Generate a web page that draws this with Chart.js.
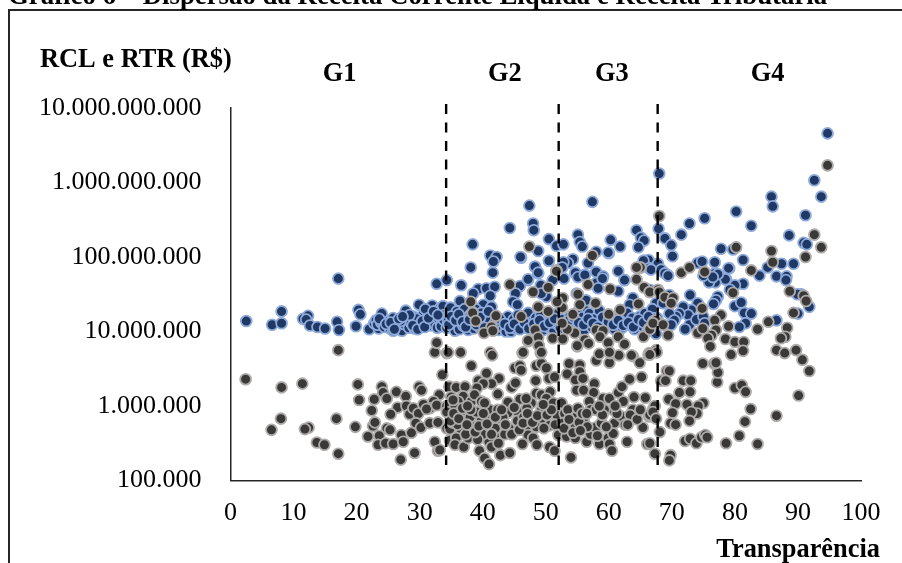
<!DOCTYPE html>
<html>
<head>
<meta charset="utf-8">
<style>
html, body { margin: 0; padding: 0; background: #fff; }
#box { width: 902px; height: 563px; }
</style>
<script src="https://cdn.jsdelivr.net/npm/chart.js@4"></script>
</head>
<body>
<div id="box"><canvas id="grafico" width="902" height="563"></canvas></div>
<script>
// pairs are [transparencia, log10 of revenue]
const rclG1 = [[2.5,7.14],[6.6,7.09],[8.1,7.27],[8.1,7.11],[11.5,7.17],[12.3,7.21],[12,7.16],[12.6,7.08],[13.8,7.06],[15,7.04],[17.1,7.71],[16.9,7.13],[17.2,7.02],[19.9,7.07],[20.3,7.29],[20.6,7.23],[22,7.03],
[22.8,7.11],[23.1,7.15],[23.5,7.04],[23.3,7.09],[23.9,7.12],[24,7.24],[24.4,7.06],[24.9,7.13],[25.3,7.04],[25.8,7.01],[25.8,7.18],[26.2,7.08],[26.5,7.13],[26.9,7.05],[27.2,7.01],[27.5,7.1],[27.8,7.28],[28,7.16],[28.3,7.05],[28.6,7.12],[29,7.2],[29.2,7.04],[29.5,7.1],[29.9,7.36],[30,7.17],[30.3,7.08],[30.6,7.24],[31,7.14],[31.3,7.27],[31.6,7.08],[31.9,7.2],[32,7.35],[32.3,7.1],[32.5,7.25],[32.8,7.05],[33,7.17],[33.2,7.31],[33.5,7.12],[33.7,7.34],[33.9,7.22],[29.5,7.17],[28.4,7.22],[27,7.14],[30.9,7.3],[32.7,7.64],
[23.6,7.17],[24.7,7.1],[25.4,7.12],[26,7.03],[26.7,7.17],[27.3,7.2],[28.9,7.08],[29.7,7.03],[30.4,7.14],[30.8,7.06],[31.4,7.18],[32.2,7.27],[33.4,7.07],[33.8,7.16],[32.9,7.22]];
const rclG2 = [[34.3,7.69],[36.6,7.62],[39.3,7.57],[38.5,7.51],[40.6,7.58],[41.9,7.6],[41.2,7.48],[40.1,7.36],[36.4,7.41],[45.9,7.61],[45.2,7.51],[44.8,7.4],[45.5,7.36],[47.2,7.69],[49.2,7.62],[50.1,7.47],[49.3,7.51],[48.3,7.87],[48.8,7.78],[46.1,7.99],[50.5,7.95],[51.1,7.69],[44,7.2],
[38.4,8.17],[47.4,8.69],[48,8.45],[48.1,8.36],[44.3,8.39],[50.5,8.24],[51.7,8.15],[48.8,8.08],[41.2,8.02],[42.2,8],[41.7,7.94],[38.1,7.86],[41.6,7.79],[46,8],[50.5,7.95],[48.3,7.87],[48.8,7.79],[47.2,7.7],
[34.3,7.05],[34.5,7.14],[34.7,7.24],[34.9,7.32],[35.2,7.09],[35.4,7.19],[35.6,7.01],[35.9,7.27],[36.1,7.12],[36.3,7.03],[36.6,7.2],[36.9,7.08],[37.1,7.3],[37.4,7.15],[37.7,7.02],[38,7.22],[38.3,7.1],[38.6,7.04],[38.9,7.3],[39.2,7.17],[39.5,7.06],[39.8,7.25],[40.1,7.11],[40.5,7.21],[40.8,7.03],[41.1,7.14],[41.4,7.33],[41.8,7.09],[42.2,7.19],[42.5,7.02],[42.9,7.12],[43.3,7.05],[43.7,7],[44.1,7.1],[44.5,7],[44.9,7.16],[45.2,7.04],[45.6,7.22],[46,7.09],[46.4,7.17],[46.8,7.05],[47.2,7.25],[47.6,7.12],[48,7.03],[48.4,7.18],[48.8,7.08],[49.2,7.22],[49.6,7.02],[50,7.13],[50.4,7.06],[50.8,7.19],[51.2,7.03],[51.6,7.11],[51.9,7.24],
[34.6,7.09],[35,7.2],[35.7,7.15],[36.2,7.23],[36.8,7.13],[37.3,7.06],[37.9,7.16],[38.4,7.26],[39,7.09],[39.6,7.19],[40.3,7.05],[40.9,7.27],[41.6,7.04],[42,7.12],[42.7,7.17],[43.5,7.1],[44.3,7.05],[45,7.1],[45.9,7.03],[46.6,7.12],[47.3,7.04],[48.1,7.1],[49,7.15],[49.8,7.07],[50.6,7.12],[51.4,7.17]];
const rclG3 = [[57.4,8.74],[52.8,8.17],[55.1,8.3],[55.4,8.2],[55.8,8.14],[60.3,8.23],[61.8,8.14],[64.4,8.36],[65.1,8.26],[65.6,8.22],[64.7,8.13],[58,8.07],[60,8.05],[56.7,7.92],[54.3,7.97],[53.5,7.92],[52.8,7.93],[52.6,7.86],[54.7,7.78],[56.2,7.76],[58,7.8],[59.1,7.74],[61.5,7.81],[62.5,7.69],[65.6,7.95],[66.3,7.96],[66.5,7.85],[67.8,7.91],[59.9,8.06],[65.5,7.95],[66.4,7.85],
[52.9,7.71],[54.7,7.79],[55.1,7.73],[56.2,7.76],[58,7.65],[59,7.71],[61.5,7.54],[62.5,7.69],[58.3,7.58],[54.9,7.51],[56.2,7.29],[56.4,7.42],[63.8,7.45],[63.3,7.36],[66,7.17],[67.5,7.38],[66.7,7.83],[66.5,7.56],
[52.3,7.05],[52.6,7.16],[53,7.02],[53.4,7.1],[53.8,7.2],[54.2,7.05],[54.6,7.13],[55,7.26],[55.4,7.08],[55.8,7.19],[56.1,7.02],[56.5,7.12],[56.9,7.24],[57.3,7.06],[57.7,7.17],[58.1,7.1],[58.5,7.28],[58.9,7.03],[59.3,7.14],[59.7,7.22],[60.1,7.07],[60.5,7.16],[60.9,7.03],[61.3,7.11],[61.7,7.2],[62.1,7.05],[62.5,7.14],[62.9,7.25],[63.3,7.09],[63.7,7.18],[64.1,7.03],[64.5,7.12],[64.9,7.2],[65.3,7.07],[65.7,7.24],[66.1,7],[66.5,7.13],[66.9,7.3],[67.3,7.08],[67.7,7.18],[67,7.18],[67.5,6.97],
[52.8,7.09],[53.6,7.14],[54.4,7.19],[55.2,7.12],[56,7.09],[56.7,7.17],[57.5,7.11],[58.3,7.06],[59,7.19],[59.9,7.13],[60.7,7.09],[61.5,7.15],[62.3,7.08],[63.1,7.12],[63.9,7.06],[64.7,7.16],[65.5,7.12],[66.3,7.2],[67.1,7.14]];
const rclG4 = [[94.7,9.66],[68,9.12],[92.6,9.03],[93.7,8.81],[85.8,8.81],[86,8.68],[80.2,8.61],[82.6,8.42],[91.2,8.56],[88.6,8.29],[90.9,8.19],[91.4,8.17],[75.2,8.52],[72.8,8.45],[71.5,8.3],[67.9,8.38],[68.9,8.25],[69.9,8.16],[70.1,8.01],[68.6,7.8],[69.4,7.75],
[74.1,7.92],[74.8,7.94],[76.8,7.93],[79.1,7.85],[75.2,7.78],[76.5,7.76],[77,7.76],[76.3,7.71],[78.6,7.7],[77.8,8.11],[79.7,8.1],[81.3,7.96],[83.9,7.75],[85.2,7.86],[87.4,7.91],[89.3,7.91],[86.6,7.74],[88.2,7.74],[88.1,7.69],
[72.9,7.49],[77.3,7.47],[77,7.42],[76.6,7.37],[80,7.34],[81,7.39],[81.5,7.25],[82.6,7.24],[81.7,7.11],[80.7,7.06],[86.6,7.15],[90,7.24],[91.8,7.33],[90.5,7.5],[89.9,7.5],[81.3,7.64],[80,7.62],[79.2,7.56],[78.5,7.7],[79,7.85],[76.9,7.66],[75.9,7.66],[75,7.75],[76.8,7.78],[77.3,7.77],[76.5,7.73],[74.1,7.38],[73.1,7.29],[71.8,7.33],[72.6,7.22],[71.2,7.24],[70.7,7.2],[69.6,7.24],[70.4,7.15],[69.9,7.09],[68.6,7.38],[69.6,7.49],[72.8,7.09],[72.1,7.03],[73.9,7.16],[75,7.2],[75.2,7.11],[68.3,7.83],[68.9,7.78],[69.4,7.75]];

const rtrG1 = [[2.4,6.36],[8.1,6.25],[11.4,6.3],[8,5.83],[6.5,5.68],[12.4,5.71],[11.8,5.69],[13.7,5.51],[14.9,5.48],[16.8,5.83],[17.1,5.36],[17.1,6.75],[20.2,6.29],[20.4,6.08],[19.8,5.72],[21.8,5.59],[22.4,5.94],[22.8,6.09],[24,6.26],[24.2,6.18],[24.8,6.1],[26.3,6.19],[27.8,6.13],[26.5,5.98],[25.4,5.89],[27.9,6],[28.4,5.89],[29,5.97],[29.8,5.9],[30.6,6.02],[29.9,6.26],[30.3,6.21],[33.1,6.15],[32.2,6.06],[31.6,5.97],[31.1,5.96],[32.7,6.01],[33.6,6.42],[32.4,6.72],[32.7,6.85],[22.6,5.73],[22.9,5.78],[24.8,5.7],[25.3,5.68],[23.6,5.6],[23.4,5.48],[24.6,5.5],[25.8,5.49],[27.1,5.61],[27.4,5.52],[28.7,5.64],[29.4,5.77],[30.2,5.71],[31.6,5.77],[32.9,5.78],[29.2,5.37],[27,5.28],[32.4,5.52],[32.9,5.4],[33.2,5.41]];
const rtrG2 = [[34.3,6.71],[34.3,6],[34.3,5.7],[36.5,6.72],[34.5,6.72],[41.2,6.72],[41.5,6.68],[38.2,6.54],[46.3,6.71],[45.1,6.51],[45.9,6.54],[46.1,6.48],[48.5,6.54],[49.3,6.57],[50.1,6.51],[49.2,6.71],[48.9,6.81],[47.2,6.87],[40.6,6.44],[39.3,6.34],[42.6,6.37],[41.4,6.3],[40.1,6.3],[39.1,6.24],[42.4,6.16],[48.4,6.34],[50.5,6.37],[51.4,6.39],[44.6,6.25],[45.2,6.31],[34.7,6.26],[35.8,6.25],[37.2,6.26],[36.9,6.13],[36.1,6.06],[34.8,6.01],[35.6,5.99],[34.3,5.92],[36.4,5.92],[38.2,6.06],[38.7,6.15],[39.8,6.06],[41.1,5.95],[40.3,6.04],[42.4,5.95],[44,6.05],[44,5.91],[45.9,6.09],[45.6,5.92],[39.8,5.81],[41.1,5.81],[34.8,5.69],[36.6,5.68],[38.5,5.73],[40.9,5.69],[42.7,5.83],[44.2,5.7],[45.5,5.8],[46.9,5.7],[47.2,5.61],[47.5,5.82],[48.5,6.17],[49.3,6.15],[50.7,6.19],[50.1,6.1],[47.7,6.04],[49.3,5.94],[49.3,5.81],[50.6,5.74],[51.2,6.04],[51.7,5.88],[34.8,5.54],[35.8,5.57],[35.6,5.48],[37,5.45],[37.7,5.57],[39.5,5.4],[41,5.52],[40.3,5.3],[41,5.22],[41.4,5.45],[42.7,5.59],[42.8,5.34],[44.3,5.37],[46.3,5.49],[48,5.57],[48.6,5.48],[50.6,5.45],[51.4,5.4],[35.2,5.78],[37.4,5.9],[38,5.85],[39,5.92],[40,5.62],[42,5.7],[43.2,5.85],[46.5,5.85],[47,5.97],[48.5,5.72],[35,6.12],[36,5.75],[37.3,5.62],[39.2,5.55],[43.5,5.62],
[34.9,5.8],[35.4,5.9],[36.2,5.83],[36.8,5.97],[37.5,5.75],[38.1,5.95],[38.8,5.65],[39.4,5.73],[40.1,5.9],[40.7,5.76],[41.4,5.62],[42,5.85],[42.5,5.5],[43,5.95],[43.6,5.75],[44.6,5.62],[45,5.98],[45.8,5.68],[46.4,5.77],[47.1,5.9],[47.9,5.78],[48.7,5.87],[49.7,5.7],[50.2,5.88],[50.9,5.95],[51.5,5.75],[35.3,6.08],[37.6,6],[46.9,6.1],[49.6,6.02],
[47.4,8.14],[51.7,7.82],[48,7.53],[50.4,7.59],[44.3,7.63],[38.1,7.4],[38.4,7.25],[38.9,7.14],[42.1,7.21],[41.4,7.06],[40.2,6.98],[41.6,7.01],[46.1,7.2],[48.8,7.33],[50.4,7.27],[51.7,7.81],[51.1,6.91],[48.3,7.02],[48.8,6.92],[47.2,6.88],[48.9,6.81],[49.3,6.72],[46.4,6.72]];
const rtrG3 = [[52.5,6.04],[53,5.9],[54.9,5.86],[53.5,5.95],[55.1,5.97],[54,5.31],[56.5,5.52],[58.5,5.49],[59.9,5.57],[60.1,5.49],[60.5,5.4],[62.9,5.52],[66.1,5.49],[67.3,5.36],[52,5.61],[53.3,5.59],[54.7,5.57],[52.7,5.77],[54.7,5.73],[56,5.81],[57.1,5.62],[57.9,5.71],[58.8,5.77],[60.9,5.77],[60.7,5.63],[62,5.86],[65.4,5.71],[66.4,5.86],[67,5.95],[53.7,6.57],[53.4,6.43],[55.4,6.55],[55.4,6.46],[54.7,6.35],[54.9,6.21],[56,6.21],[55.9,6.37],[57.7,6.3],[57.6,6.18],[56.9,6.06],[57.1,5.95],[58,5.95],[59.1,6.1],[60.1,6.1],[61.5,6.18],[62.1,6.26],[63.3,6.36],[65.2,6.39],[64,6.12],[65.8,6.11],[63.8,5.95],[62.3,6.06],[60.7,5.95],[59.3,5.95],[63.8,6.67],[64.9,6.58],[66.3,6.69],[67.5,6.75],[58,6.61],[58.5,6.7],[60.1,6.58],[60.2,6.71],[61.6,6.68],[55,6.8],
[52.9,5.7],[53.7,5.82],[54.3,5.64],[55.3,5.78],[55.8,5.9],[56.6,5.72],[58.2,5.6],[59,5.88],[59.6,5.72],[61.3,5.9],[62.6,5.75],[63.4,5.88],[64.5,5.82],
[57.4,8.02],[65,7.86],[64.4,7.7],[65.6,7.59],[66.5,7.53],[67.8,7.56],[56.7,7.63],[60.2,7.57],[55.1,7.5],[52.7,7.45],[52.6,7.32],[55.4,7.36],[54.3,7.23],[57.9,7.38],[60,7.23],[61.8,7.29],[64.7,7.37],[66.4,7.04],[65.5,6.93],[67.6,7.14],[58,7.02],[59.1,7.01],[58.6,6.93],[61.5,6.93],[62.5,6.83],[59.9,6.85],[56.2,6.89],[56.8,6.84],[55,6.81],[54.6,6.98],[53.4,7.03],[52.6,7.11],[52.7,6.9],[63.6,6.68],[66.4,6.71],[60.1,6.72],[65,7.86],[64.4,7.86],[51.8,7.4],[67.5,7.15],[66.5,7.03],[67,7.11],[66.5,7.53],[67.6,6.72],[66.5,6.69],[67.3,6],[66.5,5.88],[67,5.92],[67.5,5.83],[66.5,5.5],[65,5.95],[56.5,5.9],[58.5,6],[61,6],[63,5.75],[55.5,5.67]];
const rtrG4 = [[94.7,9.23],[68,8.55],[71.5,7.79],[72.8,7.86],[75.2,7.8],[80.2,8.13],[82.6,7.82],[85.8,8.08],[86,7.93],[91.2,8],[92.6,8.3],[93.7,8.13],[88.7,7.54],[90.9,7.48],[91.3,7.41],[89.3,7.25],[79.7,7.52],[74.8,7.31],[68,7.53],[68.9,7.46],[70.2,7.45],[69.9,7.38],[77.8,7.22],[76.8,7.15],[79,7.07],[77,7.02],[76.3,6.95],[75.7,6.91],[74.1,6.98],[74.9,7.04],[78.5,6.9],[80,6.86],[81.4,6.86],[81.3,6.74],[76.1,6.8],[79.4,6.69],[83.6,7.03],[85.3,7.13],[88.3,7.05],[88,6.93],[87.3,6.91],[86.6,6.75],[89.7,6.75],[87.9,6.71],[68.6,7.09],[69.4,6.95],
[90.7,6.62],[91.8,6.47],[90.1,6.14],[86.6,5.87],[82.5,5.96],[81.6,5.79],[80.7,5.6],[83.6,5.49],[78.6,5.5],[80,6.24],[81.1,6.28],[81.7,6.19],[77.2,6.32],[77.3,6.45],[76.7,6.57],[77,6.58],[74.9,6.57],[69.2,6.47],[69.6,6.47],[68.3,6.34],[69,6.34],[71.8,6.34],[73,6.34],[71.2,6.18],[72.9,6.19],[69.5,6.09],[70.6,6.03],[72.4,6.02],[75,6.04],[74.2,6],[74,5.9],[73.1,5.92],[72.8,5.8],[70.1,5.91],[69.8,5.77],[70.6,5.75],[68.1,5.65],[72.1,5.53],[72.9,5.56],[73.9,5.5],[74.7,5.58],[75.3,5.61],[75.6,5.58],[69.8,5.34],[69.6,5.27]];

const xTicks = [0, 10, 20, 30, 40, 50, 60, 70, 80, 90, 100];
const yTicks = [100000, 1000000, 10000000, 100000000, 1000000000, 10000000000];
const divisoes = [34.2, 52.05, 67.75];
const grupos = ['G1', 'G2', 'G3', 'G4'];
const gruposX = [17.3, 43.5, 60.5, 85.2];

const serif = '"Liberation Serif", "Times New Roman", serif';

function paraPontos(lista) {
    return lista.map(p => ({ x: p[0], y: Math.pow(10, p[1]) }));
}

function linhaDivisao(x) {
    return {
        type: 'scatter',
        data: [{ x: x, y: 11300000000 }, { x: x, y: 162000 }],
        showLine: true,
        clip: false,
        pointRadius: 0,
        borderColor: '#000',
        borderWidth: 2.4,
        borderDash: [10, 8.5],
        order: 0
    };
}

const textos = {
    id: 'textos',
    beforeDraw(chart) {
        const ctx = chart.ctx;
        ctx.save();
        ctx.strokeStyle = '#262626';
        ctx.lineWidth = 2;
        ctx.beginPath();
        ctx.moveTo(9, 563);
        ctx.lineTo(9, 10);
        ctx.lineTo(902, 10);
        ctx.stroke();
        ctx.restore();
    },
    afterDraw(chart) {
        const ctx = chart.ctx;
        const xs = chart.scales.x;
        ctx.save();
        ctx.fillStyle = '#000';
        ctx.textBaseline = 'alphabetic';
        ctx.font = 'bold 26.8px ' + serif;
        ctx.textAlign = 'left';
        ctx.fillText('Gráfico 6 – Dispersão da Receita Corrente Líquida e Receita Tributária', 8, 4);
        ctx.font = 'bold 26.4px ' + serif;
        ctx.fillText('RCL e RTR (R$)', 40, 67);
        ctx.textAlign = 'center';
        grupos.forEach((g, i) => {
            ctx.fillText(g, xs.getPixelForValue(gruposX[i]), 81);
        });
        ctx.textAlign = 'right';
        ctx.fillText('Transparência', 880, 557);
        ctx.restore();
    }
};

new Chart(document.getElementById('grafico'), {
    type: 'scatter',
    plugins: [textos],
    data: {
        datasets: [{
            label: 'RCL',
            data: paraPontos(rclG1.concat(rclG2, rclG3, rclG4)),
            backgroundColor: '#1f3864',
            borderColor: '#8eaadb',
            borderWidth: 1.8,
            pointRadius: 5.4,
            order: 2
        }, {
            label: 'RTR',
            data: paraPontos(rtrG1.concat(rtrG2, rtrG3, rtrG4)),
            backgroundColor: '#3b3838',
            borderColor: '#aeaaaa',
            borderWidth: 1.8,
            pointRadius: 5.4,
            order: 1
        }].concat(divisoes.map(linhaDivisao))
    },
    options: {
        responsive: false,
        animation: false,
        layout: { padding: { top: 108, right: 41, bottom: 0, left: 0 } },
        plugins: {
            legend: { display: false },
            tooltip: { enabled: false }
        },
        scales: {
            x: {
                type: 'linear',
                min: 0,
                max: 100,
                afterBuildTicks(s) { s.ticks = xTicks.map(v => ({ value: v })); },
                afterFit(s) { s.height = 82.5; },
                grid: { display: false, drawTicks: false },
                border: { color: '#262626', width: 1.5 },
                ticks: {
                    color: '#000',
                    padding: 17,
                    maxRotation: 0,
                    autoSkip: false,
                    font: { family: serif, size: 26 }
                }
            },
            y: {
                type: 'logarithmic',
                min: 100000,
                max: 10000000000,
                afterBuildTicks(s) { s.ticks = yTicks.map(v => ({ value: v })); },
                afterFit(s) { s.width = 230.5; },
                grid: { display: false, drawTicks: false },
                border: { color: '#262626', width: 1.5 },
                ticks: {
                    color: '#000',
                    padding: 29,
                    autoSkip: false,
                    font: { family: serif, size: 26 },
                    callback: v => String(v).replace(/\B(?=(\d{3})+$)/g, '.')
                }
            }
        }
    }
});
</script>
</body>
</html>
